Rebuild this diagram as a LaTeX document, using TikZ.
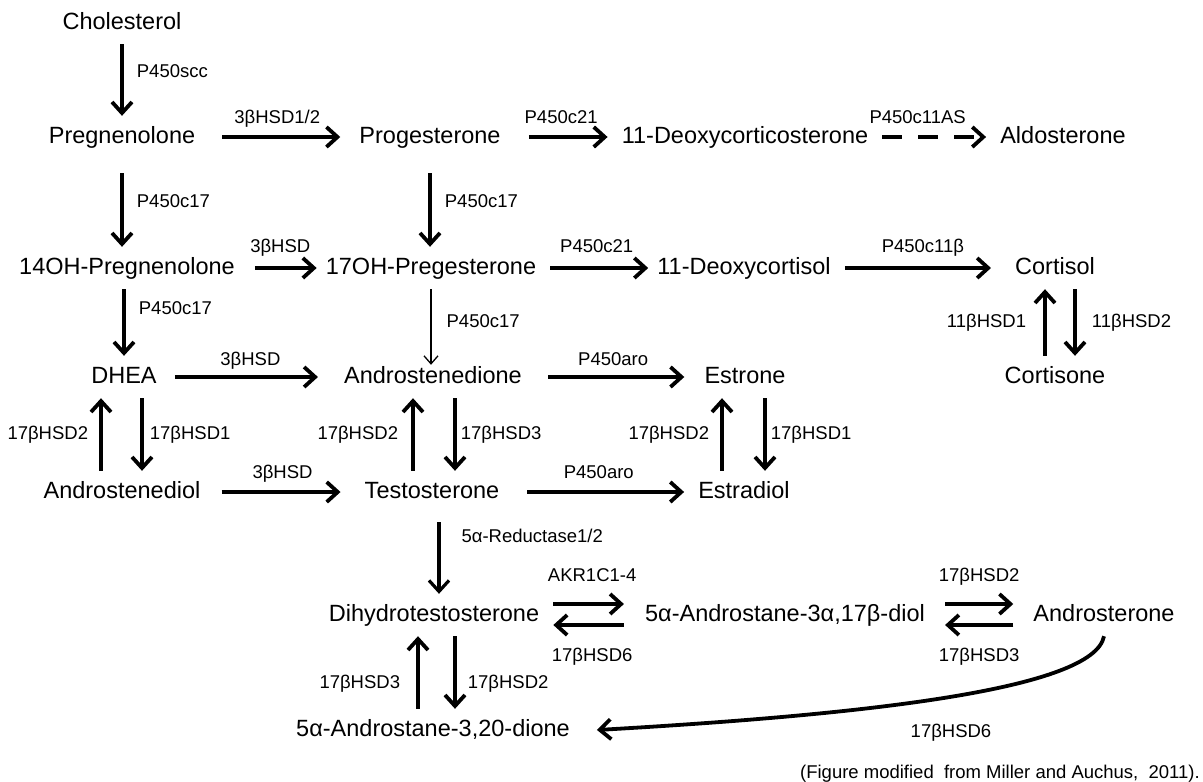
\documentclass[tikz,border=0pt]{standalone}
\usepackage{fontspec}
\setmainfont{Liberation Sans}
\usetikzlibrary{arrows.meta}

\begin{document}
\begin{tikzpicture}[x=1pt, y=-1pt,
  chem/.style={font=\fontsize{23.5}{26}\selectfont, inner xsep=14pt, inner ysep=10pt, text height=17pt, text depth=5pt},
  enz/.style={font=\fontsize{18.5}{20}\selectfont, inner sep=1pt, text height=14pt, text depth=4pt},
  rxn/.style={-{Straight Barb[length=11pt, width=20pt]}, line width=3.8pt},
  weak/.style={-{Straight Barb[length=8pt, width=14pt]}, line width=1.3pt}]
  \useasboundingbox (0,0) rectangle (1203,782);

  % Steroids
  \node[chem] (chol) at (122,23) {Cholesterol};
  \node[chem] (preg) at (122,137) {Pregnenolone};
  \node[chem] (prog) at (430,137) {Progesterone};
  \node[chem] (doc) at (745,137) {11-Deoxycorticosterone};
  \node[chem] (aldo) at (1063,137) {Aldosterone};
  \node[chem] (ohpreg) at (127,268) {14OH-Pregnenolone};
  \node[chem] (ohprog) at (431,268) {17OH-Pregesterone};
  \node[chem] (dcort) at (744,268) {11-Deoxycortisol};
  \node[chem] (cortisol) at (1055,268) {Cortisol};
  \node[chem] (dhea) at (124,377) {DHEA};
  \node[chem] (adione) at (433,377) {Androstenedione};
  \node[chem] (estrone) at (745,377) {Estrone};
  \node[chem] (cortisone) at (1055,377) {Cortisone};
  \node[chem] (adiol) at (122,492) {Androstenediol};
  \node[chem] (testo) at (432,492) {Testosterone};
  \node[chem] (estradiol) at (744,492) {Estradiol};
  \node[chem] (dht) at (434,615) {Dihydrotestosterone};
  \node[chem] (adiol3) at (785,615) {5α-Androstane-3α,17β-diol};
  \node[chem] (andros) at (1104,615) {Androsterone};
  \node[chem] (dione) at (433,730) {5α-Androstane-3,20-dione};

  % Top row
  \draw[rxn] (chol.south) -- (preg.north) node[enz, pos=.4, right=12pt] (scc) {P450scc};
  \draw[rxn, shorten <=13pt, shorten >=5pt] (preg.east) -- (prog.west) node[enz, midway, above=7pt] (hsd12) {3βHSD1/2};
  \draw[rxn, shorten <=14pt] (prog.east) -- (doc.west) node[enz, midway, above=7pt] (c21a) {P450c21};
  \draw[rxn, dash pattern=on 20pt off 16pt] (doc.east) -- (aldo.west) node[enz, pos=.34, above=7pt] (c11as) {P450c11AS};

  % Hydroxylation
  \draw[rxn, shorten <=15pt] (preg.south) -- (preg.south |- ohpreg.north) node[enz, midway, right=12pt] (c17a) {P450c17};
  \draw[rxn, shorten <=15pt] (prog.south) -- (prog.south |- ohprog.north) node[enz, midway, right=12pt] (c17b) {P450c17};
  \draw[rxn, shorten <=6pt, shorten >=-5pt] (ohpreg.east) -- (ohprog.west) node[enz, midway, above=9pt] (hsda) {3βHSD};
  \draw[rxn, shorten >=-5pt] (ohprog.east) -- (dcort.west) node[enz, midway, above=9pt] (c21b) {P450c21};
  \draw[rxn, shorten >=10pt] (dcort.east) -- (cortisol.west) node[enz, midway, above=9pt] (c11b) {P450c11β};

  % Cortisol <-> Cortisone
  \draw[rxn] ([xshift=-10pt]cortisone.north) -- ([xshift=-10pt]cortisol.south) node[enz, midway, left=16pt] (hsd11a) {11βHSD1};
  \draw[rxn] ([xshift=20pt]cortisol.south) -- ([xshift=20pt]cortisone.north) node[enz, midway, right=14pt] (hsd11b) {11βHSD2};

  % Lyase
  \draw[rxn] (dhea.north |- ohpreg.south) -- (dhea.north) node[enz, pos=.3, right=12pt] (c17c) {P450c17};
  \draw[weak, shorten >=-9pt] (ohprog.south) -- (ohprog.south |- adione.north) node[enz, midway, right=14pt] (c17d) {P450c17};
  \draw[rxn, shorten <=4pt, shorten >=12pt] (dhea.east) -- (adione.west) node[enz, midway, above=5pt] (hsdb) {3βHSD};
  \draw[rxn, shorten <=12pt, shorten >=6pt] (adione.east) -- (estrone.west) node[enz, midway, above=5pt] (aroa) {P450aro};

  % 17betaHSD pairs
  \draw[rxn] ([xshift=-21pt]adiol.north) -- ([xshift=-23pt]dhea.south) node[enz, midway, left=10pt] (h1) {17βHSD2};
  \draw[rxn] ([xshift=18pt]dhea.south) -- ([xshift=20pt]adiol.north) node[enz, midway, right=5pt] (h2) {17βHSD1};
  \draw[rxn] ([xshift=-19pt]testo.north) -- ([xshift=-20pt]adione.south) node[enz, midway, left=12pt] (h3) {17βHSD2};
  \draw[rxn] ([xshift=22pt]adione.south) -- ([xshift=23pt]testo.north) node[enz, midway, right=3pt] (h4) {17βHSD3};
  \draw[rxn] ([xshift=-22pt]estradiol.north) -- ([xshift=-23pt]estrone.south) node[enz, midway, left=10pt] (h5) {17βHSD2};
  \draw[rxn] ([xshift=20pt]estrone.south) -- ([xshift=21pt]estradiol.north) node[enz, midway, right=3pt] (h6) {17βHSD1};

  \draw[rxn, shorten <=7pt, shorten >=10pt] (adiol.east) -- (testo.west) node[enz, midway, above=7pt] (hsdc) {3βHSD};
  \draw[rxn, shorten <=14pt] (testo.east) -- (estradiol.west) node[enz, midway, above=7pt] (arob) {P450aro};

  % Androgens
  \draw[rxn, line width=3.2pt, shorten <=9pt] ([xshift=7pt]testo.south) -- ([xshift=5pt]dht.north) node[enz, pos=.3, right=20pt] (red) {5α-Reductase1/2};
  \draw[rxn, shorten >=7pt] ([yshift=11pt]dht.east) -- ([yshift=11pt]adiol3.west) node[enz, midway, above=16pt] (akr) {AKR1C1-4};
  \draw[rxn, shorten <=7pt] ([yshift=-10pt]adiol3.west) -- ([yshift=-10pt]dht.east) node[enz, midway, below=20pt] (h7) {17βHSD6};
  \draw[rxn, shorten <=6pt, shorten >=6pt] ([yshift=11pt]adiol3.east) -- ([yshift=11pt]andros.west) node[enz, midway, above=16pt] (h8) {17βHSD2};
  \draw[rxn, shorten <=6pt, shorten >=6pt] ([yshift=-10pt]andros.west) -- ([yshift=-10pt]adiol3.east) node[enz, midway, below=20pt] (h9) {17βHSD3};
  \draw[rxn] ([xshift=-15pt]dione.north) -- ([xshift=-16pt]dht.south) node[enz, pos=.35, left=15pt] (h10) {17βHSD3};
  \draw[rxn] ([xshift=21pt]dht.south) -- ([xshift=22pt]dione.north) node[enz, pos=.65, right=10pt] (h11) {17βHSD2};
  \draw[rxn] (andros.south) .. controls +(-10,54) and +(262,-15) .. ([xshift=13pt]dione.east);
  \node[enz] (h12) at (951,732) {17βHSD6};

  \node[enz, anchor=east] (cite) at (1201,773) {(Figure modified\ \ from Miller and Auchus,\ \ 2011).};
\end{tikzpicture}
\end{document}
